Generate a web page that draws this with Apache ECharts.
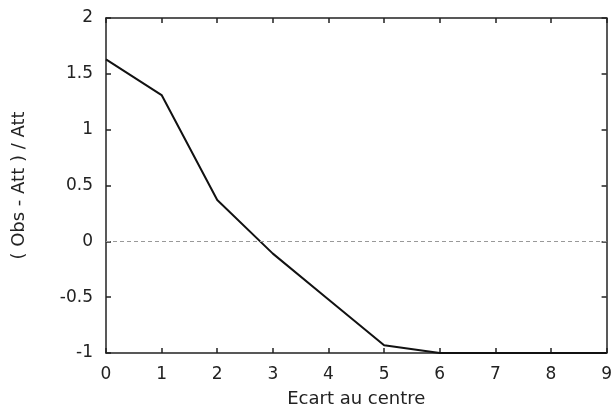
<!DOCTYPE html>
<html>
<head>
<meta charset="utf-8">
<script src="https://cdn.jsdelivr.net/npm/echarts@6/dist/echarts.min.js"></script>
<style>html,body{margin:0;padding:0;background:#fff;}#c{width:615px;height:413px;}</style>
</head>
<body>
<div id="c"></div>
<script>
const xValues = [0, 1, 2, 3, 4, 5, 6, 7, 8, 9];
const yValues = [1.63, 1.31, 0.37, -0.11, -0.52, -0.93, -1.0, -1.0, -1.0, -1.0];
const xTitle = 'Ecart au centre';
const yTitle = '( Obs - Att ) / Att';

const chart = echarts.init(document.getElementById('c'), null, {renderer: 'canvas'});
const font = 'DejaVu Sans';
const axisLineStyle = {color: '#222', width: 1.5};
const tick = {show: true, inside: true, length: 5, lineStyle: axisLineStyle};
chart.setOption({
  backgroundColor: '#fff',
  animation: false,
  grid: {left: 106, right: 8, top: 18, bottom: 59, containLabel: false},
  xAxis: [
    {type: 'value', min: 0, max: 9, interval: 1, position: 'bottom',
     name: xTitle, nameLocation: 'middle', nameGap: 37,
     nameTextStyle: {fontFamily: font, fontSize: 18, color: '#222'},
     axisLine: {show: true, onZero: false, lineStyle: axisLineStyle},
     axisTick: tick,
     axisLabel: {fontFamily: font, fontSize: 17, color: '#222', margin: 13},
     splitLine: {show: false}},
    {type: 'value', min: 0, max: 9, interval: 1, position: 'top',
     axisLine: {show: true, onZero: false, lineStyle: axisLineStyle},
     axisTick: tick,
     axisLabel: {show: false}, splitLine: {show: false}}
  ],
  yAxis: [
    {type: 'value', min: -1, max: 2, interval: 0.5, position: 'left',
     name: yTitle, nameLocation: 'middle', nameGap: 78, nameRotate: 90,
     nameTextStyle: {fontFamily: font, fontSize: 18, color: '#222'},
     axisLine: {show: true, onZero: false, lineStyle: axisLineStyle},
     axisTick: tick,
     axisLabel: {fontFamily: font, fontSize: 17, color: '#222', margin: 13},
     splitLine: {show: false}},
    {type: 'value', min: -1, max: 2, interval: 0.5, position: 'right',
     axisLine: {show: true, onZero: false, lineStyle: axisLineStyle},
     axisTick: tick,
     axisLabel: {show: false}, splitLine: {show: false}}
  ],
  series: [{
    type: 'line',
    data: xValues.map((x, i) => [x, yValues[i]]),
    showSymbol: false,
    lineStyle: {color: '#111', width: 2},
    markLine: {
      silent: true, symbol: ['none', 'none'],
      label: {show: false},
      lineStyle: {color: '#999', type: [4, 3], width: 1},
      data: [{yAxis: 0}]
    }
  }]
});
</script>
</body>
</html>
